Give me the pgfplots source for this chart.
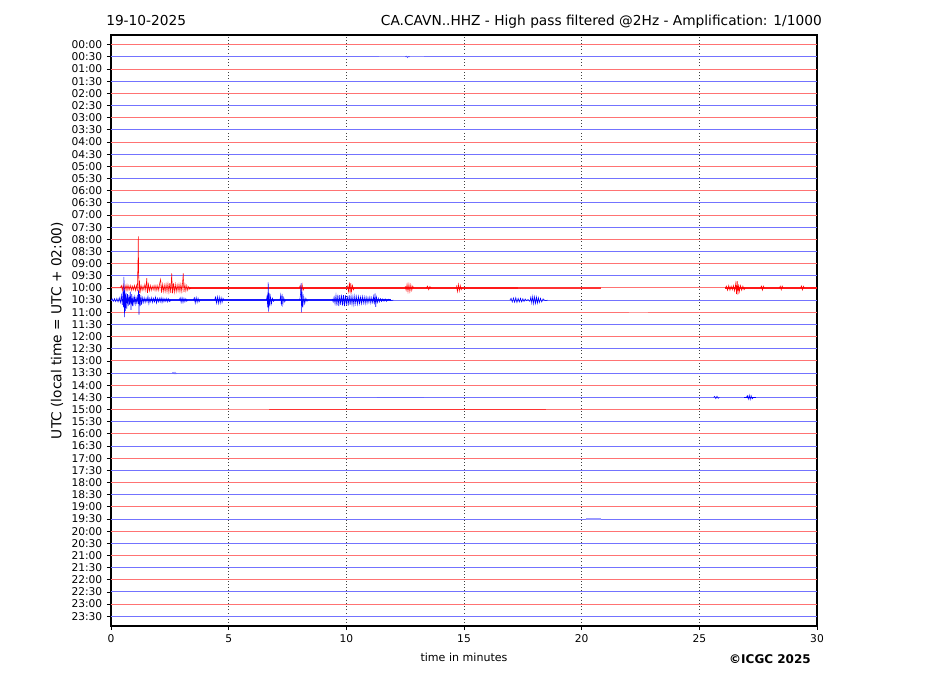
\documentclass[border=0pt]{standalone}
\usepackage{fontspec}
\setmainfont{DejaVu Sans}
\usepackage{pgfplots}
\pgfplotsset{compat=1.18}
\definecolor{lred}{RGB}{255,115,115}
\definecolor{lblue}{RGB}{115,115,255}
\definecolor{tred}{RGB}{255,0,0}
\definecolor{tblue}{RGB}{0,0,255}
\begin{document}
\begin{tikzpicture}
\path[use as bounding box] (-83.25pt,-52.5pt) rectangle (612pt,469.5pt);
\begin{axis}[
 at={(0,0)}, anchor=south west,
 scale only axis, width=529.5pt, height=443.25pt,
 xmin=0, xmax=30, ymin=-47.8, ymax=0.8,
 xtick={0,5,...,30}, ytick={0,-1,...,-47},
 yticklabels={00:00,00:30,01:00,01:30,02:00,02:30,03:00,03:30,04:00,04:30,05:00,05:30,06:00,06:30,07:00,07:30,08:00,08:30,09:00,09:30,10:00,10:30,11:00,11:30,12:00,12:30,13:00,13:30,14:00,14:30,15:00,15:30,16:00,16:30,17:00,17:30,18:00,18:30,19:00,19:30,20:00,20:30,21:00,21:30,22:00,22:30,23:00,23:30},
 tick align=outside, major tick length=3pt,
 xtick pos=bottom, ytick pos=left,
 tick label style={font=\fontsize{8}{9}\selectfont},
 /pgf/number format/assume math mode=true,
 xmajorgrids, grid style={dotted, black!75, line width=0.5pt},
 axis line style={line width=0.8pt},
 tick style={black, line width=0.6pt},
]
% baselines
\addplot[lred,line width=0.7pt] coordinates {(0,0) (30,0)};
\addplot[lblue,line width=0.7pt] coordinates {(0,-1) (30,-1)};
\addplot[lred,line width=0.7pt] coordinates {(0,-2) (30,-2)};
\addplot[lblue,line width=0.7pt] coordinates {(0,-3) (30,-3)};
\addplot[lred,line width=0.7pt] coordinates {(0,-4) (30,-4)};
\addplot[lblue,line width=0.7pt] coordinates {(0,-5) (30,-5)};
\addplot[lred,line width=0.7pt] coordinates {(0,-6) (30,-6)};
\addplot[lblue,line width=0.7pt] coordinates {(0,-7) (30,-7)};
\addplot[lred,line width=0.7pt] coordinates {(0,-8) (30,-8)};
\addplot[lblue,line width=0.7pt] coordinates {(0,-9) (30,-9)};
\addplot[lred,line width=0.7pt] coordinates {(0,-10) (30,-10)};
\addplot[lblue,line width=0.7pt] coordinates {(0,-11) (30,-11)};
\addplot[lred,line width=0.7pt] coordinates {(0,-12) (30,-12)};
\addplot[lblue,line width=0.7pt] coordinates {(0,-13) (30,-13)};
\addplot[lred,line width=0.7pt] coordinates {(0,-14) (30,-14)};
\addplot[lblue,line width=0.7pt] coordinates {(0,-15) (30,-15)};
\addplot[lred,line width=0.7pt] coordinates {(0,-16) (30,-16)};
\addplot[lblue,line width=0.7pt] coordinates {(0,-17) (30,-17)};
\addplot[lred,line width=0.7pt] coordinates {(0,-18) (30,-18)};
\addplot[lblue,line width=0.7pt] coordinates {(0,-19) (30,-19)};
\addplot[lred,line width=0.7pt] coordinates {(0,-20) (30,-20)};
\addplot[lblue,line width=0.7pt] coordinates {(0,-21) (30,-21)};
\addplot[lred,line width=0.7pt] coordinates {(0,-22) (30,-22)};
\addplot[lblue,line width=0.7pt] coordinates {(0,-23) (30,-23)};
\addplot[lred,line width=0.7pt] coordinates {(0,-24) (30,-24)};
\addplot[lblue,line width=0.7pt] coordinates {(0,-25) (30,-25)};
\addplot[lred,line width=0.7pt] coordinates {(0,-26) (30,-26)};
\addplot[lblue,line width=0.7pt] coordinates {(0,-27) (30,-27)};
\addplot[lred,line width=0.7pt] coordinates {(0,-28) (30,-28)};
\addplot[lblue,line width=0.7pt] coordinates {(0,-29) (30,-29)};
\addplot[lred,line width=0.7pt] coordinates {(0,-30) (30,-30)};
\addplot[lblue,line width=0.7pt] coordinates {(0,-31) (30,-31)};
\addplot[lred,line width=0.7pt] coordinates {(0,-32) (30,-32)};
\addplot[lblue,line width=0.7pt] coordinates {(0,-33) (30,-33)};
\addplot[lred,line width=0.7pt] coordinates {(0,-34) (30,-34)};
\addplot[lblue,line width=0.7pt] coordinates {(0,-35) (30,-35)};
\addplot[lred,line width=0.7pt] coordinates {(0,-36) (30,-36)};
\addplot[lblue,line width=0.7pt] coordinates {(0,-37) (30,-37)};
\addplot[lred,line width=0.7pt] coordinates {(0,-38) (30,-38)};
\addplot[lblue,line width=0.7pt] coordinates {(0,-39) (30,-39)};
\addplot[lred,line width=0.7pt] coordinates {(0,-40) (30,-40)};
\addplot[lblue,line width=0.7pt] coordinates {(0,-41) (30,-41)};
\addplot[lred,line width=0.7pt] coordinates {(0,-42) (30,-42)};
\addplot[lblue,line width=0.7pt] coordinates {(0,-43) (30,-43)};
\addplot[lred,line width=0.7pt] coordinates {(0,-44) (30,-44)};
\addplot[lblue,line width=0.7pt] coordinates {(0,-45) (30,-45)};
\addplot[lred,line width=0.7pt] coordinates {(0,-46) (30,-46)};
\addplot[lblue,line width=0.7pt] coordinates {(0,-47) (30,-47)};
% faint activity on other rows
\addplot[tblue!45,line width=0.9pt] coordinates {(11.4,-1) (13.3,-1)};
\addplot[tblue!70,line width=0.4pt] coordinates {(12.5,-1) (12.55,-0.94) (12.6,-1.06) (12.65,-0.96) (12.7,-1)};
\addplot[tblue!60,line width=0.4pt] coordinates {(2.6,-27) (2.64,-26.94) (2.68,-27.06) (2.72,-26.93) (2.76,-27.07) (2.8,-27)};
\addplot[tblue!60,line width=1.1pt] coordinates {(11.3,-29) (13.3,-29)};
\addplot[tblue,line width=0.4pt] coordinates {(25.6,-29) (25.65,-28.92) (25.7,-29.1) (25.75,-28.9) (25.8,-29.08) (25.85,-29)};
\addplot[tblue,line width=1.1pt] coordinates {(26.9,-29) (27.4,-29)};
\addplot[tblue,line width=0.4pt] coordinates {(27.0,-29) (27.04,-28.85) (27.08,-29.15) (27.12,-28.82) (27.16,-29.18) (27.2,-28.85) (27.24,-29.12) (27.3,-29)};
\addplot[tred!80,line width=1.3pt] coordinates {(6.7,-30) (18.5,-30)};
\addplot[tred!45,line width=1.0pt] coordinates {(3.8,-30) (6.7,-30)};
\addplot[tred!40,line width=1.0pt] coordinates {(22.0,-22) (22.8,-22)};
\addplot[tblue!40,line width=1.0pt] coordinates {(20.2,-39) (20.8,-39)};
% 10:00 red trace
\addplot[tred!90,line width=1.15pt] coordinates {(3.3,-20) (17.3,-20)};
\addplot[tred!80,line width=0.9pt] coordinates {(17.3,-20) (20.8,-20)};
\addplot[tred!90,line width=1.15pt] coordinates {(26.1,-20) (30,-20)};
\addplot[tred,line width=0.4pt] coordinates {(0,-20) (0.40,-20) (0.44,-19.8) (0.48,-20.2) (0.52,-19.75) (0.56,-20.25) (0.60,-19.8) (0.64,-20.2) (0.68,-19.75) (0.72,-20.2) (0.76,-19.8) (0.80,-20.15) (0.84,-19.8) (0.88,-20.2) (0.92,-19.85) (0.96,-20.15) (1.00,-19.8) (1.04,-20.2) (1.08,-19.8) (1.12,-20.25) (1.15,-17.5) (1.16,-15.75) (1.17,-18.0) (1.19,-20.45) (1.21,-19.4) (1.24,-20.3) (1.28,-19.8) (1.32,-20.2) (1.36,-19.85) (1.40,-20.15) (1.44,-19.7) (1.48,-20.2) (1.52,-19.2) (1.55,-20.4) (1.59,-19.7) (1.63,-20.25) (1.67,-19.8) (1.71,-20.2) (1.75,-19.85) (1.79,-20.15) (1.83,-19.8) (1.87,-20.2) (1.91,-19.8) (1.95,-20.2) (1.99,-19.8) (2.03,-20.2) (2.07,-19.6) (2.11,-19.3) (2.14,-20.4) (2.18,-19.7) (2.22,-20.3) (2.26,-19.75) (2.30,-20.3) (2.34,-19.7) (2.38,-20.3) (2.42,-19.65) (2.46,-20.35) (2.50,-19.6) (2.54,-20.4) (2.58,-18.8) (2.61,-20.45) (2.65,-19.6) (2.69,-20.35) (2.73,-19.7) (2.77,-20.3) (2.81,-19.75) (2.85,-20.25) (2.89,-19.7) (2.93,-20.3) (2.97,-19.7) (3.01,-20.3) (3.04,-19.6) (3.07,-18.8) (3.10,-20.35) (3.14,-19.7) (3.18,-20.25) (3.22,-19.8) (3.26,-20.2) (3.30,-19.9) (3.34,-20.1) (3.40,-20)};
\addplot[tred,line width=0.4pt] coordinates {(8.0,-20) (8.04,-19.8) (8.08,-20.25) (8.12,-19.7) (8.16,-20.2) (8.2,-20)};
\addplot[tred,line width=0.4pt] coordinates {(10.05,-19.8) (10.09,-20.3) (10.13,-19.55) (10.16,-20.45) (10.19,-19.6) (10.22,-20.3) (10.26,-19.8) (10.30,-20.15) (10.34,-20)};
\addplot[tred,line width=0.4pt] coordinates {(12.50,-19.85) (12.54,-20.2) (12.58,-19.7) (12.62,-20.3) (12.66,-19.7) (12.70,-20.3) (12.74,-19.75) (12.78,-20.2) (12.82,-19.85) (12.86,-20)};
\addplot[tred,line width=0.4pt] coordinates {(13.4,-20) (13.45,-19.85) (13.5,-20.15) (13.55,-19.88) (13.6,-20)};
\addplot[tred,line width=0.4pt] coordinates {(14.68,-19.8) (14.72,-20.3) (14.76,-19.7) (14.80,-20.25) (14.84,-19.8) (14.88,-20.15) (14.92,-20)};
\addplot[tred,line width=0.4pt] coordinates {(26.10,-20) (26.15,-19.85) (26.2,-20.2) (26.25,-19.8) (26.3,-20.2) (26.35,-19.85) (26.4,-20.15) (26.45,-19.8) (26.5,-20.25) (26.55,-19.6) (26.58,-20.5) (26.61,-19.45) (26.64,-20.55) (26.67,-19.7) (26.7,-20.3) (26.75,-19.8) (26.8,-20.2) (26.85,-19.85) (26.9,-20.15) (26.95,-20)};
\addplot[tred,line width=0.4pt] coordinates {(27.6,-20) (27.64,-19.85) (27.68,-20.18) (27.72,-19.85) (27.76,-20)};
\addplot[tred,line width=0.4pt] coordinates {(28.4,-20) (28.44,-19.85) (28.48,-20.15) (28.52,-19.84) (28.56,-20)};
\addplot[tred,line width=0.4pt] coordinates {(29.3,-20) (29.34,-19.84) (29.38,-20.16) (29.42,-19.86) (29.46,-20)};
% 10:30 blue trace
\addplot[tblue!90,line width=1.25pt] coordinates {(1.3,-21) (11.9,-21)};
\addplot[tblue,line width=0.4pt] coordinates {(0,-21) (0.05,-20.9) (0.1,-21.1) (0.15,-20.88) (0.2,-21.12) (0.25,-20.85) (0.3,-21.15) (0.35,-20.8) (0.40,-21.2) (0.44,-20.6) (0.48,-21.4) (0.51,-20.3) (0.53,-21.6) (0.55,-19.1) (0.57,-22.4) (0.59,-20.2) (0.61,-21.9) (0.64,-20.4) (0.67,-21.7) (0.70,-20.5) (0.73,-21.5) (0.76,-20.6) (0.79,-21.4) (0.82,-20.3) (0.85,-21.8) (0.88,-20.5) (0.91,-21.5) (0.94,-20.7) (0.97,-21.3) (1.00,-20.75) (1.03,-21.3) (1.06,-20.8) (1.09,-21.2) (1.12,-20.7) (1.15,-21.3) (1.17,-20.2) (1.19,-22.2) (1.21,-20.5) (1.24,-21.5) (1.27,-20.6) (1.30,-21.4) (1.33,-20.8) (1.37,-21.2) (1.41,-20.8) (1.45,-21.2) (1.49,-20.85) (1.53,-21.15) (1.57,-20.7) (1.61,-21.3) (1.65,-20.85) (1.69,-21.15) (1.73,-20.8) (1.77,-21.2) (1.81,-20.85) (1.85,-21.15) (1.89,-20.75) (1.93,-21.25) (1.97,-20.85) (2.01,-21.15) (2.05,-20.85) (2.09,-21.15) (2.13,-20.8) (2.17,-21.2) (2.21,-20.85) (2.25,-21.15) (2.29,-20.88) (2.33,-21.12) (2.37,-20.85) (2.41,-21.15) (2.45,-20.88) (2.49,-21.12) (2.55,-21)};
\addplot[tblue,line width=0.4pt] coordinates {(2.90,-21) (2.94,-20.8) (2.98,-21.2) (3.02,-20.8) (3.06,-21.2) (3.10,-20.85) (3.14,-21.15) (3.18,-20.88) (3.22,-21.1) (3.26,-21)};
\addplot[tblue,line width=0.4pt] coordinates {(3.50,-21) (3.54,-20.8) (3.58,-21.25) (3.62,-20.78) (3.66,-21.2) (3.70,-20.85) (3.74,-21.15) (3.78,-21)};
\addplot[tblue,line width=0.4pt] coordinates {(4.40,-21) (4.44,-20.75) (4.48,-21.25) (4.52,-20.72) (4.56,-21.28) (4.60,-20.75) (4.64,-21.25) (4.68,-20.8) (4.72,-21.2) (4.76,-20.85) (4.80,-21)};
\addplot[tblue,line width=0.4pt] coordinates {(6.6,-21) (6.63,-20.7) (6.66,-21.6) (6.68,-19.55) (6.70,-21.95) (6.72,-20.4) (6.75,-21.5) (6.78,-20.7) (6.82,-21.3) (6.86,-20.85) (6.9,-21.1) (6.95,-21)};
\addplot[tblue,line width=0.4pt] coordinates {(7.18,-21) (7.21,-20.6) (7.24,-21.45) (7.27,-20.5) (7.30,-21.35) (7.34,-20.8) (7.38,-21.15) (7.42,-21)};
\addplot[tblue,line width=0.4pt] coordinates {(8.02,-21) (8.05,-20.6) (8.08,-19.6) (8.10,-22.0) (8.12,-20.3) (8.15,-21.6) (8.19,-20.7) (8.23,-21.3) (8.28,-20.85) (8.33,-21.1) (8.38,-21)};
\addplot[tblue,line width=0.4pt] coordinates {(9.40,-20.9) (9.44,-21.15) (9.48,-20.75) (9.52,-21.3) (9.56,-20.6) (9.60,-21.45) (9.64,-20.55) (9.68,-21.5) (9.72,-20.6) (9.76,-21.4) (9.80,-20.55) (9.84,-21.45) (9.88,-20.6) (9.92,-21.5) (9.96,-20.6) (10.00,-21.4) (10.04,-20.65) (10.08,-21.45) (10.12,-20.6) (10.16,-21.4) (10.20,-20.65) (10.24,-21.35) (10.28,-20.7) (10.32,-21.4) (10.36,-20.65) (10.40,-21.3) (10.44,-20.7) (10.48,-21.35) (10.52,-20.7) (10.56,-21.3) (10.60,-20.75) (10.64,-21.3) (10.68,-20.7) (10.72,-21.25) (10.76,-20.75) (10.80,-21.3) (10.84,-20.75) (10.88,-21.25) (10.92,-20.8) (10.96,-21.2) (11.00,-20.75) (11.04,-21.25) (11.08,-20.8) (11.12,-21.2) (11.16,-20.7) (11.19,-21.35) (11.22,-20.45) (11.25,-21.55) (11.28,-20.75) (11.32,-21.2) (11.36,-20.85) (11.40,-21.15) (11.45,-20.88) (11.50,-21.12) (11.55,-20.9) (11.60,-21.1) (11.65,-20.9) (11.70,-21.1) (11.8,-20.92) (11.9,-21.05) (12.0,-21)};
\addplot[tblue,line width=0.4pt] coordinates {(16.95,-21) (17.0,-20.85) (17.05,-21.15) (17.1,-20.82) (17.15,-21.18) (17.2,-20.8) (17.25,-21.2) (17.3,-20.85) (17.35,-21.15) (17.4,-20.85) (17.45,-21.15) (17.5,-20.88) (17.55,-21.12) (17.6,-20.9) (17.66,-21.05) (17.72,-20.95) (17.8,-21.1) (17.84,-20.75) (17.88,-21.25) (17.92,-20.7) (17.96,-21.3) (18.0,-20.72) (18.04,-21.28) (18.08,-20.75) (18.12,-21.25) (18.16,-20.8) (18.2,-21.2) (18.25,-20.85) (18.3,-21.15) (18.36,-20.9) (18.45,-21.05) (18.55,-21)};
\end{axis}
\node[anchor=base west, inner sep=0, font=\fontsize{10.3}{12}\selectfont] at (-3.75pt,450.25pt) {19-10-2025};
\node[anchor=base east, inner sep=0, font=\fontsize{10.3}{12}\selectfont] at (533.25pt,450.25pt) {CA.CAVN..HHZ - High pass filtered @2Hz - Amplification: 1/1000};
\node[rotate=90, anchor=center, inner sep=0, font=\fontsize{10.3}{12}\selectfont] at (-40.5pt,221.6pt) {UTC (local time = UTC + 02:00)};
\node[anchor=center, inner sep=0, font=\fontsize{8.3}{10}\selectfont] at (264.75pt,-23.25pt) {time in minutes};
\node[anchor=east, inner sep=0, font=\fontsize{9}{11}\selectfont\bfseries] at (525pt,-24.75pt) {©ICGC 2025};
\end{tikzpicture}
\end{document}
